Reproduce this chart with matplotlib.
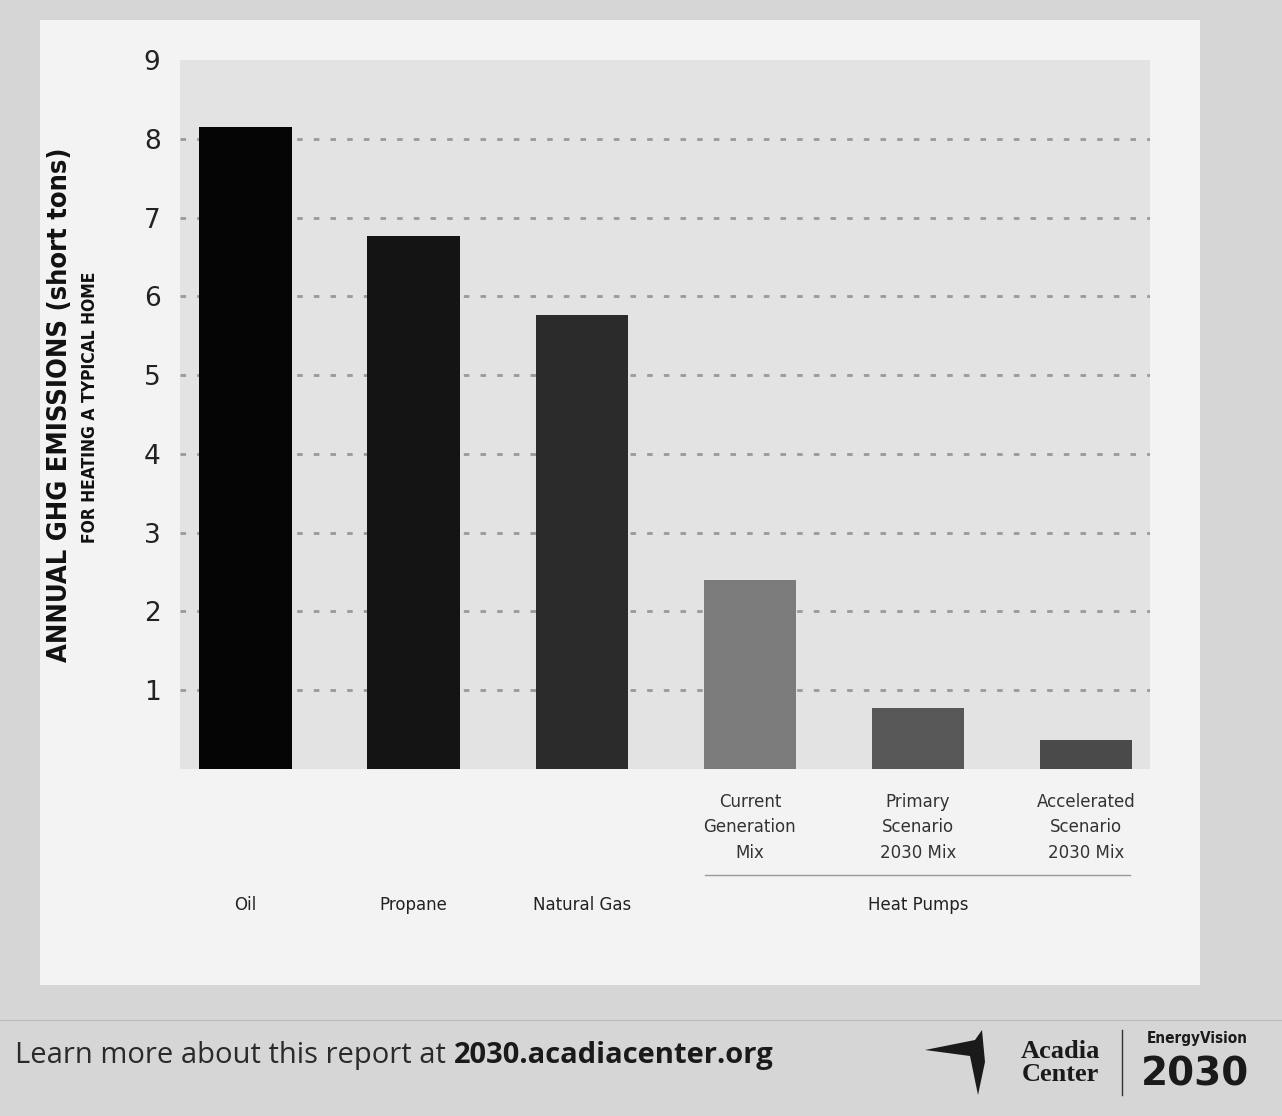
import numpy as np
import matplotlib.pyplot as plt
from matplotlib.patches import Rectangle, Polygon
import matplotlib.transforms as mtransforms

# data
categories = ["Oil", "Propane", "Natural Gas", "Current\nGeneration\nMix",
              "Primary\nScenario\n2030 Mix", "Accelerated\nScenario\n2030 Mix"]
emissions = [8.15, 6.77, 5.76, 2.40, 0.77, 0.37]
bar_colors = ["#050505", "#141414", "#2b2b2b", "#7b7b7b", "#575757", "#4a4a4a"]
fuel_labels = ["Oil", "Propane", "Natural Gas"]
group_label = "Heat Pumps"
y_ticks = list(range(1, 10))

fig = plt.figure(figsize=(12.82, 11.16), dpi=100)
fig.patch.set_facecolor("#d6d6d6")

# light panel behind the chart
fig.patches.append(Rectangle((40 / 1282, 1 - 985 / 1116), 1160 / 1282, 965 / 1116,
                             transform=fig.transFigure, facecolor="#f3f3f3",
                             edgecolor="none", zorder=-5))

ax = fig.add_axes([180 / 1282, 347 / 1116, 970 / 1282, 709 / 1116])
ax.set_zorder(2)
ax.set_facecolor("#e3e3e3")

x = np.arange(len(emissions))
ax.bar(x, emissions, width=0.55, color=bar_colors, zorder=3)

ax.set_ylim(0, 9)
ax.set_xlim(-0.39, 5.38)
ax.set_yticks(y_ticks)
ax.set_yticklabels([str(t) for t in y_ticks], fontsize=19, color="#222222")
ax.tick_params(axis="y", length=0, pad=14)
ax.yaxis.grid(True, linestyle=(0, (2, 4)), color="#9a9a9a", linewidth=2, zorder=1)
ax.get_ygridlines()[-1].set_visible(False)
for s in ax.spines.values():
    s.set_visible(False)

# only the heat pump bars get sub labels as tick labels
ax.set_xticks(x)
ax.set_xticklabels([""] * 3 + categories[3:], fontsize=12, color="#333333",
                   linespacing=1.55, va="top")
ax.tick_params(axis="x", length=0, pad=17)

trans = mtransforms.blended_transform_factory(ax.transData, ax.transAxes)
for i, lab in enumerate(fuel_labels):
    ax.text(i, -0.192, lab, transform=trans, ha="center", va="center",
            fontsize=12, color="#222222")
ax.plot([2.73, 5.26], [-0.1495, -0.1495], transform=trans, color="#9a9a9a",
        linewidth=1, clip_on=False)
ax.text(4, -0.192, group_label, transform=trans, ha="center", va="center",
        fontsize=12, color="#222222")

# y axis title in two lines
fig.text(60 / 1282, 1 - 405 / 1116, "ANNUAL GHG EMISSIONS (short tons)",
         rotation=90, ha="center", va="center", fontsize=19.5, fontweight="bold",
         fontstretch="condensed", color="#111111")
fig.text(90 / 1282, 1 - 407 / 1116, "FOR HEATING A TYPICAL HOME",
         rotation=90, ha="center", va="center", fontsize=12.5, fontweight="bold",
         fontstretch="condensed", color="#111111")

# footer
fig.add_artist(plt.Line2D([0, 1], [1 - 1020 / 1116] * 2, transform=fig.transFigure,
                          color="#bdbdbd", linewidth=1))
t1 = fig.text(15 / 1282, 1 - 1056 / 1116, "Learn more about this report at ",
              ha="left", va="center", fontsize=21, family="Open Sans", color="#2a2a2a")
ax.annotate("2030.acadiacenter.org", xy=(1, 0.5), xycoords=t1, ha="left", va="center",
            fontsize=21, family="Open Sans", fontweight="bold", color="#1a1a1a",
            annotation_clip=False)

bird = Polygon([[925 / 1282, 1 - 1050 / 1116], [975 / 1282, 1 - 1040 / 1116],
                [982 / 1282, 1 - 1030 / 1116], [985 / 1282, 1 - 1062 / 1116],
                [978 / 1282, 1 - 1095 / 1116], [970 / 1282, 1 - 1056 / 1116]],
               closed=True, transform=fig.transFigure, facecolor="#1a1a1a",
               edgecolor="none")
fig.patches.append(bird)
fig.text(1060 / 1282, 1 - 1063 / 1116, "Acadia\nCenter", ha="center", va="center",
         fontsize=19, fontweight="bold", family="Liberation Serif",
         color="#1a1a1a", linespacing=0.95)
fig.add_artist(plt.Line2D([1122 / 1282] * 2, [1 - 1030 / 1116, 1 - 1095 / 1116],
                          transform=fig.transFigure, color="#333333", linewidth=1))
fig.text(1197 / 1282, 1 - 1038 / 1116, "EnergyVision", ha="center", va="center",
         fontsize=11, fontweight="bold", fontstretch="condensed", color="#1a1a1a")
fig.text(1195 / 1282, 1 - 1075 / 1116, "2030", ha="center", va="center",
         fontsize=28, fontweight="bold", color="#1a1a1a")

fig.savefig("out.png", dpi=100, facecolor=fig.get_facecolor())
